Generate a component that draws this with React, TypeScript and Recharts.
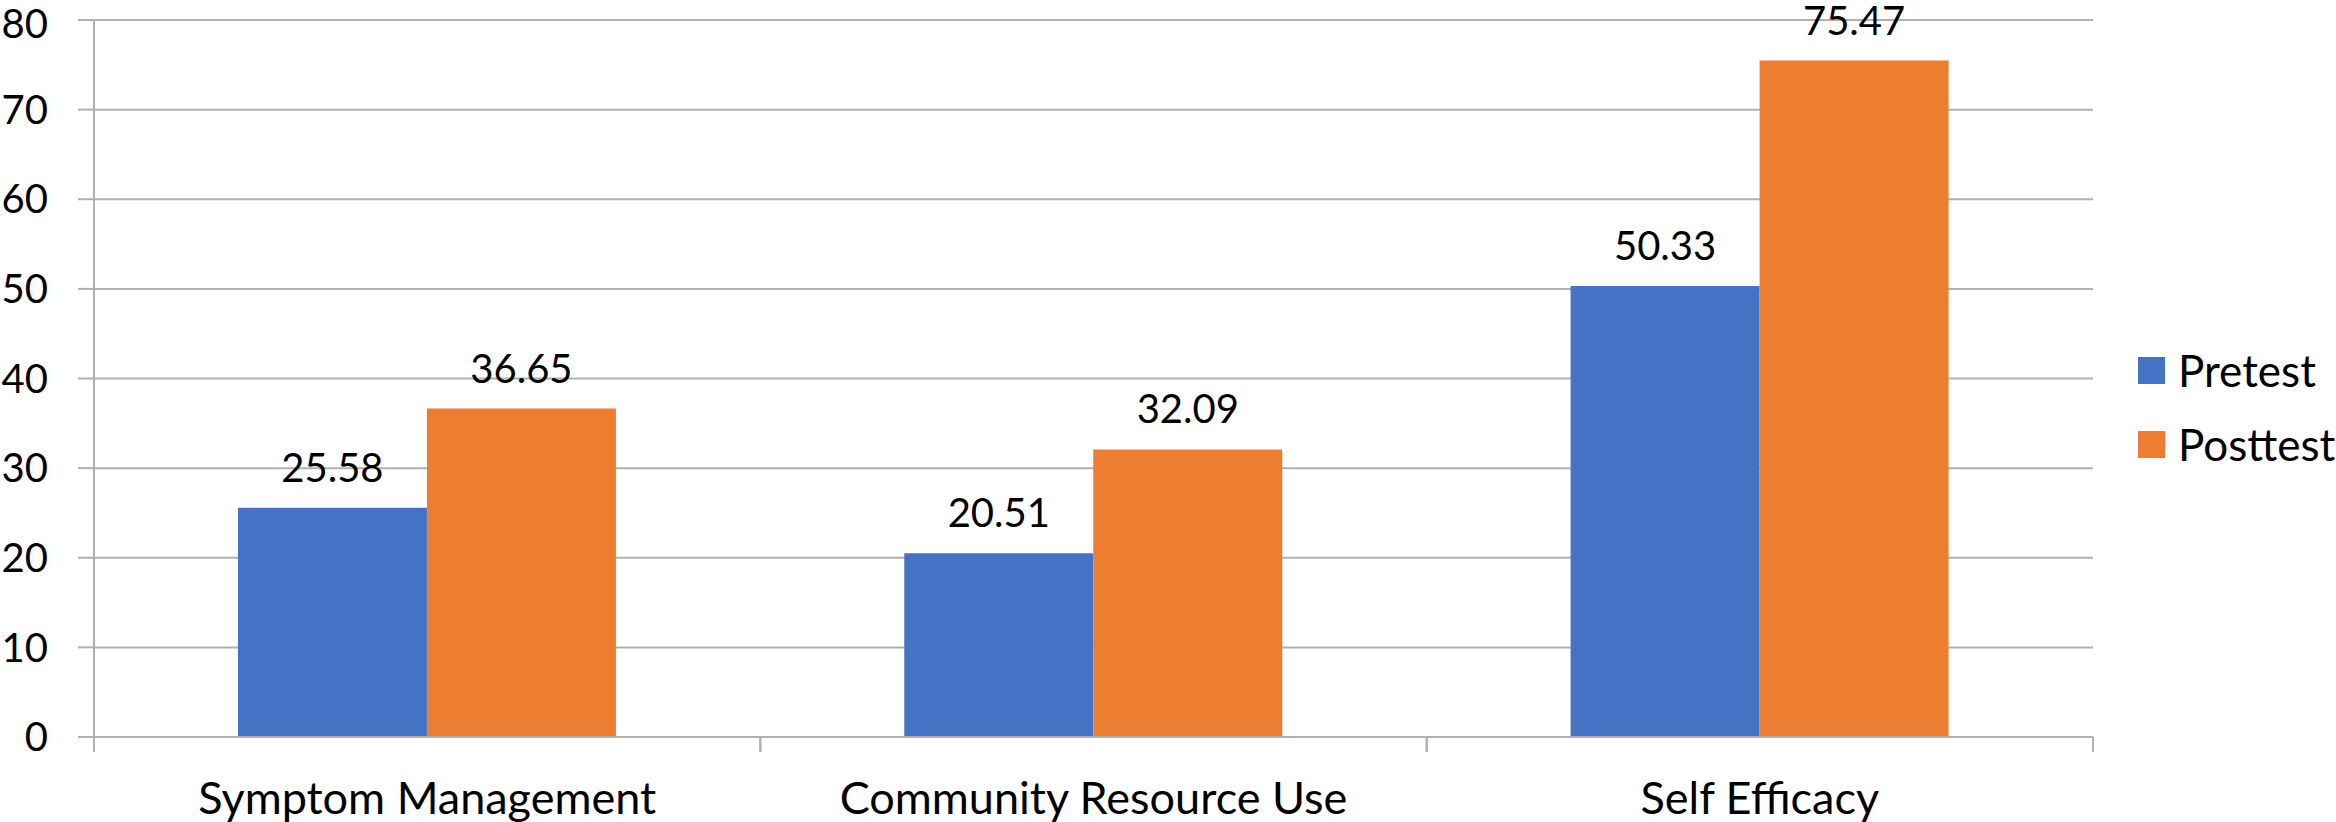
import React from "react"
import { BarChart, Bar, XAxis, YAxis, CartesianGrid, LabelList } from "recharts"

const categories = ["Symptom Management", "Community Resource Use", "Self Efficacy"]
const pretest = [25.58, 20.51, 50.33]
const posttest = [36.65, 32.09, 75.47]
const yTicks = [0, 10, 20, 30, 40, 50, 60, 70, 80]

const data = categories.map((name, i) => ({ name, Pretest: pretest[i], Posttest: posttest[i] }))

const W = 2336
const H = 822
const X_H = 30
const M = { top: 20, right: 243, bottom: 85 - X_H, left: 0 }
const Y_W = 94
const GRID = "#b0b0b0"
const FONT = "Lato, 'Open Sans', sans-serif"
const band = (W - M.left - M.right - Y_W) / categories.length

const CatTick = (props: any) => {
  const { x, y, payload } = props
  const left = x - band / 2
  return (
    <g>
      <line x1={left} y1={y} x2={left} y2={y + 15} stroke={GRID} strokeWidth={2} />
      <line x1={left + band} y1={y} x2={left + band} y2={y + 15} stroke={GRID} strokeWidth={2} />
      <text x={x} y={y + 77} textAnchor="middle" fontSize={45} fontFamily={FONT} fill="#000">
        {payload.value}
      </text>
    </g>
  )
}

const LegendBox = () => (
  <div style={{ position: "absolute", left: 2138, top: 333, fontFamily: FONT, fontSize: 44 }}>
    {[
      { n: "Pretest", c: "#4472C4" },
      { n: "Posttest", c: "#ED7D31" },
    ].map((it) => (
      <div key={it.n} style={{ display: "flex", alignItems: "center", height: 74 }}>
        <div style={{ width: 27, height: 27, background: it.c, marginRight: 13 }} />
        <span>{it.n}</span>
      </div>
    ))}
  </div>
)

export default function App() {
  return (
    <div style={{ position: "absolute", left: 0, top: 0, width: W, height: H, background: "#fff" }}>
      <BarChart width={W} height={H} data={data} margin={M} barGap={0} barCategoryGap="21.6%">
        <CartesianGrid vertical={false} stroke={GRID} strokeWidth={2} />
        <XAxis
          dataKey="name"
          height={X_H}
          stroke={GRID}
          strokeWidth={2}
          tickLine={false}
          tickSize={0}
          tickMargin={0}
          tick={<CatTick />}
          interval={0}
        />
        <YAxis
          width={Y_W}
          domain={[0, 80]}
          ticks={yTicks}
          stroke={GRID}
          strokeWidth={2}
          tickSize={16}
          tickMargin={30}
          tick={{ fill: "#000", fontSize: 40, fontFamily: FONT }}
        />
        <Bar dataKey="Pretest" fill="#4472C4" isAnimationActive={false}>
          <LabelList dataKey="Pretest" position="top" offset={26} fill="#000" fontSize={40} fontFamily={FONT} />
        </Bar>
        <Bar dataKey="Posttest" fill="#ED7D31" isAnimationActive={false}>
          <LabelList dataKey="Posttest" position="top" offset={26} fill="#000" fontSize={40} fontFamily={FONT} />
        </Bar>
      </BarChart>
      <LegendBox />
    </div>
  )
}
